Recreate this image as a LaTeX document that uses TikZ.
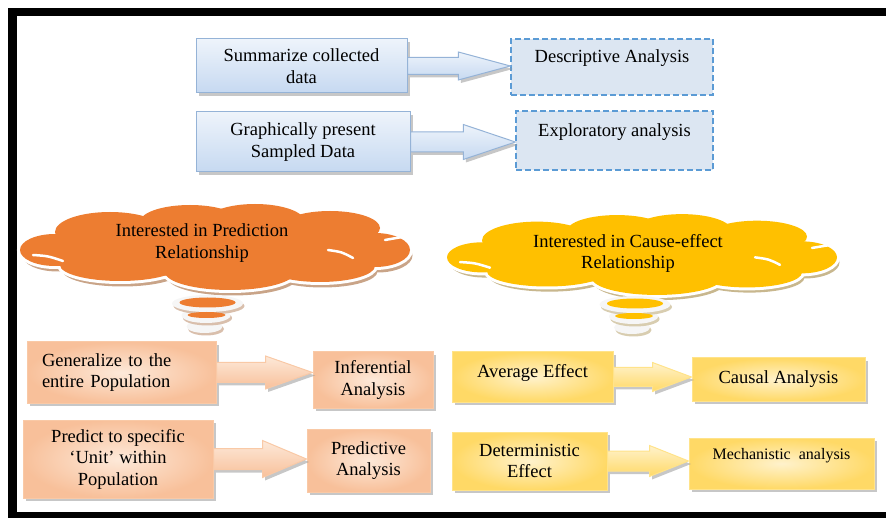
\documentclass[tikz,border=0pt]{standalone}
\usepackage{fontspec}
\setmainfont{Liberation Serif}
\usetikzlibrary{shadows,calc}

\definecolor{blueline}{HTML}{95B3D7}
\definecolor{bluefill}{HTML}{C6D9F1}
\definecolor{bluedash}{HTML}{5B9BD5}
\definecolor{bluepale}{HTML}{DCE6F2}
\definecolor{cloudorange}{HTML}{ED7D31}
\definecolor{cloudyellow}{HTML}{FFC000}
\definecolor{orangeshade}{HTML}{C9A488}
\definecolor{yellowshade}{HTML}{C8B78E}
\definecolor{bubblewhite}{HTML}{F6F6F6}
\definecolor{peachdark}{HTML}{F8C09A}
\definecolor{peachlight}{HTML}{FDE9D9}
\definecolor{peachline}{HTML}{F9C9A6}
\definecolor{goldyellow}{HTML}{FFD966}
\definecolor{paleyellow}{HTML}{FFF2CC}
\definecolor{goldline}{HTML}{FFE38A}

\tikzset{
  base/.style={font=\fontsize{18.5}{21.5}\selectfont, align=center, inner sep=2pt},
  boxshadow/.style={drop shadow={shadow xshift=2.5pt,shadow yshift=-3pt,fill=black!40,opacity=.55}},
  bluebox/.style={base, draw=blueline, line width=1pt, top color=bluefill!30, bottom color=bluefill, boxshadow},
  dashbox/.style={base, draw=bluedash, line width=1.3pt, dash pattern=on 6pt off 3pt, fill=bluepale},
  peachbox/.style={base, draw=peachline, line width=1pt, inner color=peachlight, outer color=peachdark, boxshadow},
  goldbox/.style={base, draw=goldline, line width=1pt, inner color=paleyellow, outer color=goldyellow, boxshadow},
  bluearrow/.style={draw=blueline, line width=1pt, top color=bluefill!30, bottom color=bluefill, boxshadow},
  peacharrow/.style={draw=peachline, line width=1pt, top color=peachlight, bottom color=peachdark, boxshadow},
  goldarrow/.style={draw=goldline, line width=1pt, top color=paleyellow, bottom color=goldyellow, boxshadow},
  crease/.style={white, line width=2.5pt, line cap=round},
  cloudtext/.style={base, inner sep=0pt}
}

% puffs of a cloud: centre x / centre y / x radius / y radius
\newcommand{\cloudpuffs}{55/250/35/16, 110/232/55/20, 190/222/50/17, 255/222/50/18,
  330/228/50/17, 375/250/35/17, 320/266/55/16, 230/272/65/18, 120/265/60/16, 215/247/160/30}

% #1 fill colour, #2 shadow colour
\newcommand{\puffcloud}[2]{%
  \foreach \cx/\cy/\rx/\ry in \cloudpuffs
    \fill[#2] (\cx+2.5,\cy+5.5) ellipse [x radius=\rx, y radius=\ry];
  \foreach \cx/\cy/\rx/\ry in \cloudpuffs
    \draw[white, line width=6pt] (\cx,\cy) ellipse [x radius=\rx, y radius=\ry];
  \foreach \cx/\cy/\rx/\ry in \cloudpuffs
    \fill[#1] (\cx,\cy) ellipse [x radius=\rx, y radius=\ry];
  \draw[crease] (33,255) .. controls (48,256) .. (63,261);
  \draw[crease] (328,250) .. controls (342,252) .. (353,258);
  \draw[crease] (385,240) -- (402,237);}

% thought bubbles under a cloud
\newcommand{\cloudtail}[2]{%
  \foreach \cx/\cy/\rx/\ry in {204.5/326.5/18/6.5, 206/315.5/24.5/7.5, 207.5/303.5/35.5/8.5}{
    \fill[#2!70] (\cx+1.5,\cy+2.5) ellipse [x radius=\rx, y radius=\ry];
    \fill[bubblewhite] (\cx,\cy) ellipse [x radius=\rx, y radius=\ry];}
  \fill[#1] (206.5,315) ellipse [x radius=19, y radius=3];
  \fill[#1] (207.5,302.5) ellipse [x radius=28, y radius=5];}

% block arrow from the east side of #2 to the west side of #3
\newcommand{\flowarrow}[6]{%
  \path[#1] let \p1=(#2.east), \p2=(#3.west) in
    (\x1,{\y1+#4pt}) -- ({\x2-#6pt},{\y1+#4pt}) -- ({\x2-#6pt},{\y1+#5pt}) -- (\x2,\y1)
    -- ({\x2-#6pt},{\y1-#5pt}) -- ({\x2-#6pt},{\y1-#4pt}) -- (\x1,{\y1-#4pt}) -- cycle;}

\begin{document}
\begin{tikzpicture}[x=1pt,y=-1pt]
\useasboundingbox (0,0) rectangle (886,518);

% frame
\draw[line width=8.5pt] (900,12) -- (12.5,12) -- (12.5,516) -- (900,516);

% upper row
\node[bluebox, minimum width=211pt, minimum height=54pt] (collect) at (301.5,66) {Summarize collected\\data};
\node[dashbox, minimum width=202pt, minimum height=56pt] (descr) at (612,67) {Descriptive Analysis\\ \mbox{}};
\node[bluebox, minimum width=214pt, minimum height=60pt] (present) at (303,142) {Graphically present\\Sampled Data};
\node[dashbox, minimum width=197pt, minimum height=59pt] (explor) at (614.5,140.5) {Exploratory analysis\\ \mbox{}};

\flowarrow{bluearrow}{collect}{descr}{8.5}{14}{52}
\flowarrow{bluearrow}{present}{explor}{10}{17.5}{52}

% clouds
\puffcloud{cloudorange}{orangeshade}
\cloudtail{cloudorange}{orangeshade}
\node[cloudtext] (predtext) at (202,243) {Interested in Prediction\\Relationship};

\begin{scope}[shift={(643,255)}, yscale=0.94, shift={(-216,-247.5)}]
  \puffcloud{cloudyellow}{yellowshade}
\end{scope}
\begin{scope}[shift={(427.5,1)}]
  \cloudtail{cloudyellow}{yellowshade}
\end{scope}
\node[cloudtext] (causetext) at (628,253.5) {Interested in Cause-effect\\Relationship};

% prediction side
\node[peachbox, align=left, text width=159pt, inner xsep=15pt, minimum width=189pt, minimum height=61pt] (general) at (121.5,372.5) {Generalize to the\\entire Population};
\node[peachbox, minimum width=120pt, minimum height=56pt] (infer) at (373,380) {Inferential\\Analysis};
\node[peachbox, minimum width=190pt, minimum height=78pt] (unit) at (118,459) {Predict to specific\\`Unit' within\\Population};
\node[peachbox, minimum width=123pt, minimum height=63pt] (predict) at (368.5,460.5) {Predictive\\Analysis};

\flowarrow{peacharrow}{general}{infer}{10}{16.5}{47}
\flowarrow{peacharrow}{unit}{predict}{10.5}{18.5}{44}

% cause-effect side
\node[goldbox, minimum width=161pt, minimum height=50pt] (average) at (532.5,377) {Average Effect\\[-9pt]\mbox{}};
\node[goldbox, minimum width=173pt, minimum height=43pt] (causal) at (778.5,379.5) {Causal Analysis};
\node[goldbox, minimum width=155pt, minimum height=58pt] (determ) at (529.5,461) {Deterministic\\Effect};
\node[goldbox, font=\fontsize{16}{19}\selectfont, minimum width=185pt, minimum height=51pt] (mech) at (781.5,463.5) {Mechanistic~ analysis\\ \mbox{}};

\flowarrow{goldarrow}{average}{causal}{9.5}{14.5}{39}
\flowarrow{goldarrow}{determ}{mech}{10}{15.5}{39}
\end{tikzpicture}
\end{document}
